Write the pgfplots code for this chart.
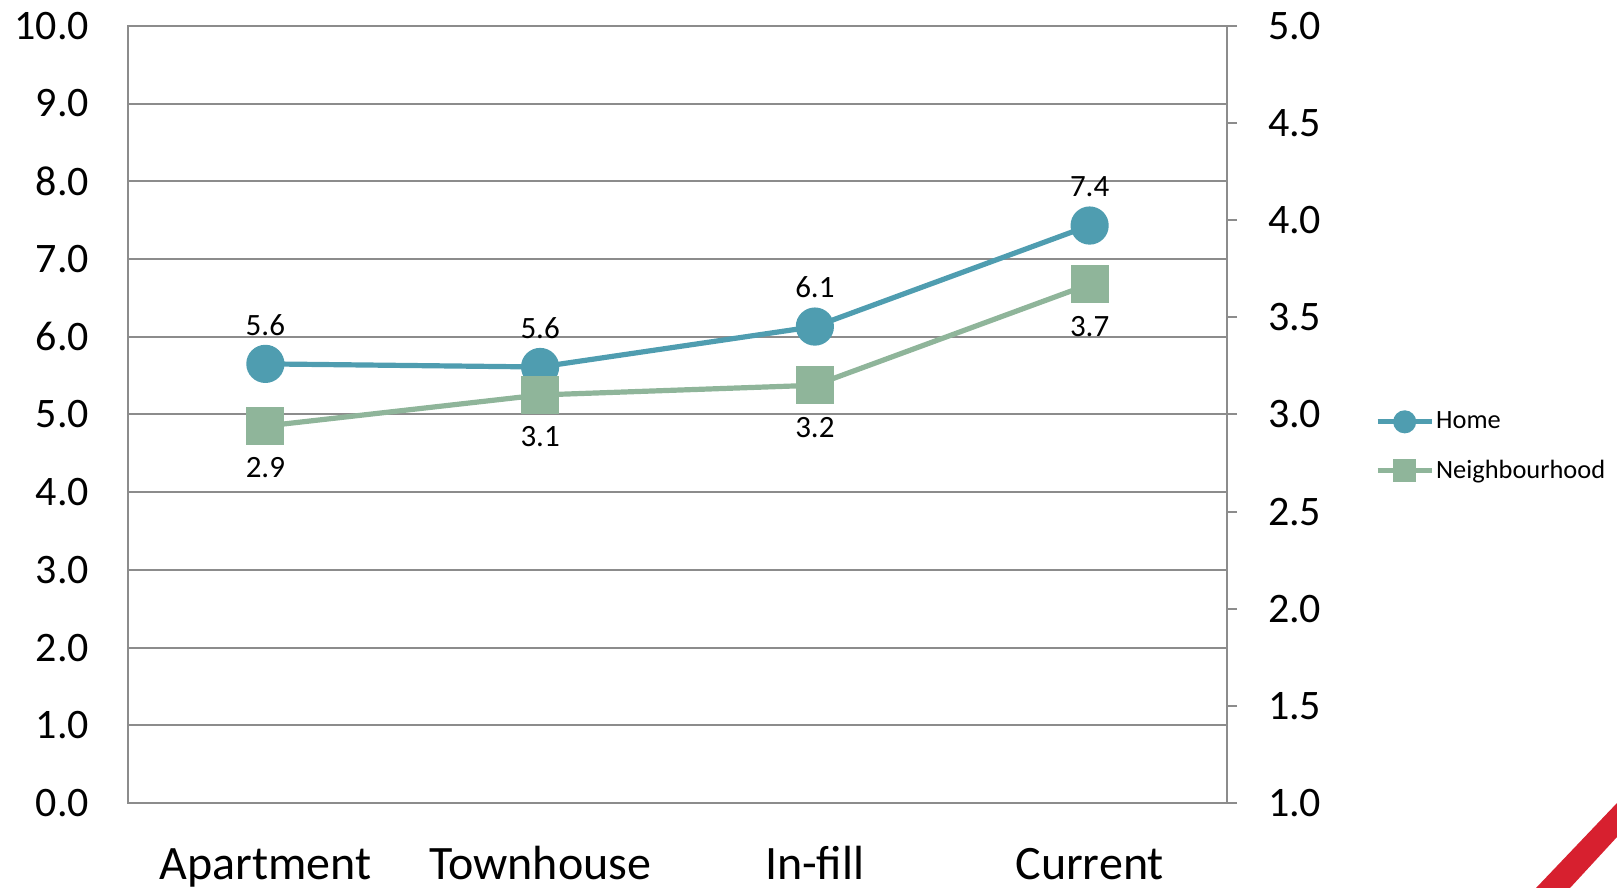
\documentclass[border=0pt]{standalone}
\usepackage{pgfplots}
\pgfplotsset{compat=1.18}
\usepackage{fontspec}
\setmainfont{Carlito}
\usetikzlibrary{calc}
\definecolor{home}{HTML}{4F9DB0}
\definecolor{nbh}{HTML}{8FB59A}
\definecolor{gridc}{HTML}{8C8C8C}
\definecolor{stripe}{HTML}{D7202F}
\begin{document}
\begin{tikzpicture}
\pgfplotsset{every axis/.append style={scale only axis, width=549.5pt, height=388.6pt, xmin=-0.5, xmax=3.5,
  /pgf/number format/assume math mode=true}}
\begin{axis}[name=ax,
  ymin=0, ymax=10, ytick={0,1,...,10},
  y tick label style={/pgf/number format/fixed, /pgf/number format/fixed zerofill, /pgf/number format/precision=1,
    font=\fontsize{21}{21}\selectfont, xshift=-16pt},
  xtick={0,1,2,3}, xticklabels={Apartment,Townhouse,In-fill,Current},
  x tick label style={font=\fontsize{24}{24}\selectfont, text height=0.75em, text depth=0.25em, anchor=north, yshift=-27pt},
  major tick length=0pt,
  axis line style={gridc, line width=1pt},
  ymajorgrids, grid style={gridc, line width=1pt},
  clip=false]
\addplot[home, line width=2.6pt, mark=*, mark size=8.25pt, mark options={fill=home, draw=home},
  nodes near coords, point meta=explicit symbolic,
  every node near coord/.style={anchor=center, yshift=19.5pt, black, font=\fontsize{15.5}{15.5}\selectfont}]
  table[meta=lab] {
x y lab
0 5.65 5.6
1 5.61 5.6
2 6.13 6.1
3 7.43 7.4
};
\end{axis}
\begin{axis}[
  ymin=1, ymax=5, ytick={1,1.5,...,5},
  axis y line*=right, axis x line=none,
  y tick label style={/pgf/number format/fixed, /pgf/number format/fixed zerofill, /pgf/number format/precision=1,
    font=\fontsize{21}{21}\selectfont, xshift=12pt},
  tick align=outside, major tick length=5pt,
  y axis line style={gridc, line width=1pt}, ytick style={gridc, line width=1pt},
  clip=false,
  legend image code/.code={\draw[mark repeat=2,mark phase=2,#1] plot coordinates {(0pt,0pt)(13.5pt,0pt)(27pt,0pt)};},
  legend image post style={mark size=4.5pt, line width=2.5pt},
  legend style={draw=none, fill=none, font=\fontsize{13.2}{13.2}\selectfont, at={(1.129,0.4587)}, anchor=west,
    row sep=12pt, nodes={inner sep=1pt}},
  legend cell align=left]
\addlegendimage{home, line width=2.5pt, mark=*, mark options={fill=home, draw=home}}
\addlegendentry{Home}
\addplot[nbh, line width=2.6pt, mark=square*, mark size=8.25pt, mark options={fill=nbh, draw=nbh},
  nodes near coords, point meta=explicit symbolic,
  every node near coord/.style={anchor=center, yshift=-21pt, black, font=\fontsize{15.5}{15.5}\selectfont}]
  table[meta=lab] {
x y lab
0 2.94 2.9
1 3.10 3.1
2 3.15 3.2
3 3.67 3.7
};
\addlegendentry{Neighbourhood}
\end{axis}
\coordinate (O) at ($(ax.south west)+(-64pt,-42.5pt)$);
\fill[stripe] ($(O)+(768pt,0pt)$) -- ($(O)+(785pt,0pt)$) -- ($(O)+(808.5pt,25.5pt)$) -- ($(O)+(808.5pt,42.5pt)$) -- cycle;
\pgfresetboundingbox
\path[use as bounding box] (O) rectangle ++(808.5pt,444pt);
\end{tikzpicture}
\end{document}
